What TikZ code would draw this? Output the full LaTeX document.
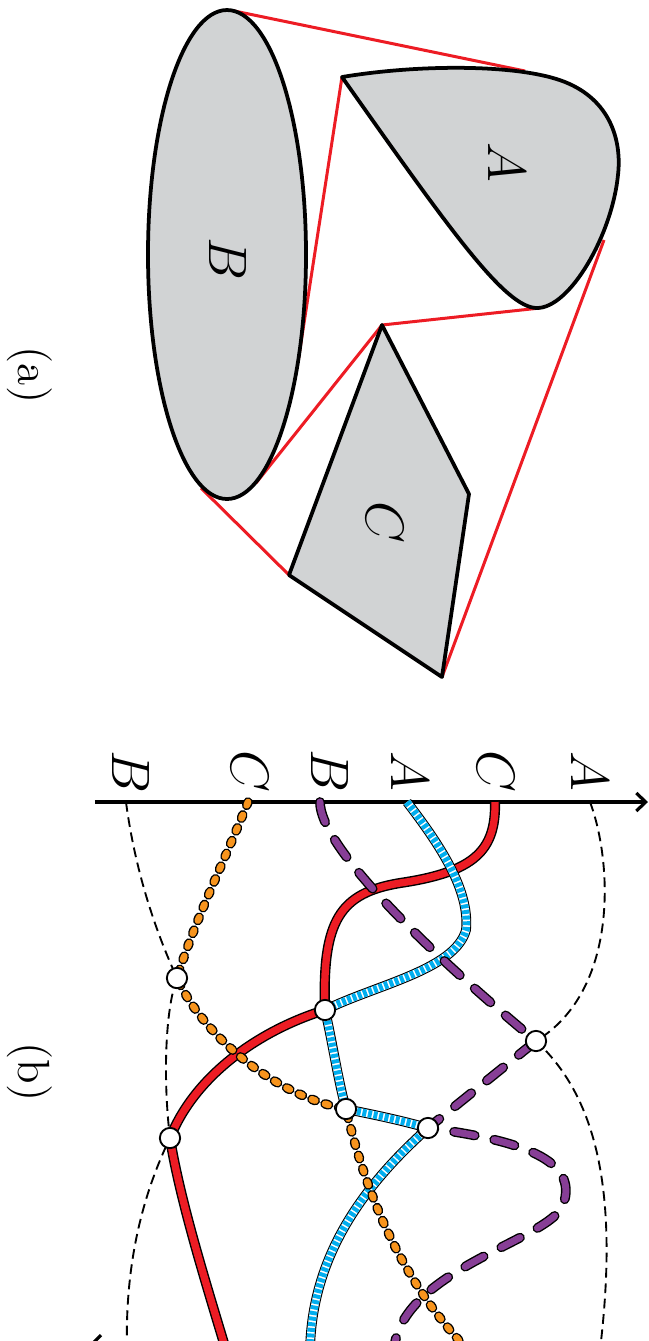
\documentclass[tikz,border=0pt]{standalone}
\usepackage{amsmath, amssymb}
\usetikzlibrary{arrows.meta}

\definecolor{shapegray}{RGB}{209,211,212}
\definecolor{hullred}{RGB}{237,28,36}
\definecolor{curvecyan}{RGB}{0,174,239}
\definecolor{curvepurple}{RGB}{135,62,150}
\definecolor{curveorange}{RGB}{247,148,29}

\tikzset{
  setshape/.style={draw=black, line width=1pt, fill=shapegray, line join=round},
  hull/.style={draw=hullred, line width=0.8pt},
  setletter/.style={rotate=-90, inner sep=0pt, font=\Large},
  panellabel/.style={rotate=-90, inner sep=0pt, font=\large},
  redcurve/.style={draw=black, line width=2.7pt,
    postaction={draw=hullred, line width=1.95pt}},
  bluecurve/.style={draw=black, line width=2.6pt,
    postaction={draw=white, line width=2pt},
    postaction={draw=curvecyan, line width=2pt, dash pattern=on 1.05pt off 0.45pt}},
  purplecurve/.style={draw=black, line width=2.6pt, line cap=round, dash pattern=on 5.6pt off 5.3pt,
    postaction={draw=curvepurple, line width=1.85pt, line cap=round, dash pattern=on 5.6pt off 5.3pt}},
  orangecurve/.style={draw=black, line width=2.55pt, line cap=round, dash pattern=on 0.95pt off 2.75pt,
    postaction={draw=curveorange, line width=1.8pt, line cap=round, dash pattern=on 0.95pt off 2.75pt}},
  envelope/.style={draw=black, line width=0.5pt, dash pattern=on 2.6pt off 1.5pt},
  meet/.style={circle, draw=black, fill=white, line width=0.5pt, inner sep=0pt, minimum size=5.4pt},
}

\begin{document}
\begin{tikzpicture}[x=0.00935cm, y=-0.00935cm]
  \useasboundingbox (0,0) rectangle (649,1341);
  \clip (0,0) rectangle (649,1341);

  % 1. Panel (a): corners of the sets, then the hull edges under the filled sets
  \coordinate (Acorner) at (342,77);
  \coordinate (Ctop) at (382,325);
  \coordinate (Cright) at (469,494);
  \coordinate (Cbottom) at (442,677);
  \coordinate (Cleft) at (289,575);

  \draw[hull] (232,10.5) -- (525,71);
  \draw[hull] (Acorner) -- (298,362);
  \draw[hull] (540,308) -- (Ctop);
  \draw[hull] (Ctop) -- (256,483);
  \draw[hull] (201,488) -- (Cleft);
  \draw[hull] (Cbottom) -- (604,240);

  \draw[setshape] (Acorner) .. controls (420,64) and (520,64) .. (565,82)
    .. controls (610,100) and (622,140) .. (618,175)
    .. controls (612,235) and (570,308) .. (537,308)
    .. controls (505,308) and (450,230) .. cycle;
  \draw[setshape] (Ctop) -- (Cright) -- (Cbottom) -- (Cleft) -- cycle;
  \draw[setshape] (227,254.5) ellipse [x radius=79, y radius=244.5];

  \node[setletter] (setA) at (507,162) {$A$};
  \node[setletter] (setB) at (228,259) {$B$};
  \node[setletter] (setC) at (385,522) {$C$};
  \node[panellabel] (panela) at (30,375) {(a)};

  % 2. Panel (b): axis with the order of the sets
  \coordinate (axisstart) at (95,802);
  \coordinate (axisend) at (648,802);
  \draw[line width=0.85pt, -{Straight Barb[length=2.5pt,width=4.8pt]}] (axisstart) -- (axisend);

  \coordinate (pB1) at (126,802);
  \coordinate (pC1) at (248,802);
  \coordinate (pB2) at (320,802);
  \coordinate (pA1) at (407,802);
  \coordinate (pC2) at (495,802);
  \coordinate (pA2) at (590,802);

  \node[setletter] (lB1) at (131,772) {$B$};
  \node[setletter] (lC1) at (250,771) {$C$};
  \node[setletter] (lB2) at (330,771) {$B$};
  \node[setletter] (lA1) at (410,771) {$A$};
  \node[setletter] (lC2) at (496,771) {$C$};
  \node[setletter] (lA2) at (590,771) {$A$};

  % meeting points and the ends below the cut
  \coordinate (m1) at (325,1010);
  \coordinate (m2) at (177,978);
  \coordinate (m3) at (170,1138);
  \coordinate (m4) at (346,1109);
  \coordinate (m5) at (428,1128);
  \coordinate (m6) at (536,1041);
  \coordinate (eLeft) at (127,1350);
  \coordinate (eRed) at (226,1350);
  \coordinate (eBlue) at (310,1350);
  \coordinate (ePurple) at (394,1350);
  \coordinate (eOrange) at (468,1350);
  \coordinate (eRight) at (600,1350);

  % 3. The thin dashed envelopes
  \draw[envelope] (pA2) .. controls (612,860) and (620,990) .. (m6)
    .. controls (600,1100) and (618,1200) .. (eRight);
  \draw[envelope] (pB1) .. controls (135,870) and (155,930) .. (m2)
    .. controls (165,1010) and (163,1080) .. (m3)
    .. controls (140,1200) and (125,1270) .. (eLeft);

  % 4. The four curves
  \draw[redcurve] (pC2) .. controls (496,850) and (475,872) .. (400,883)
    .. controls (340,893) and (322,920) .. (m1)
    .. controls (260,1030) and (195,1075) .. (m3)
    .. controls (180,1200) and (205,1280) .. (eRed);
  \draw[bluecurve] (pA1) .. controls (440,845) and (470,890) .. (466,930)
    .. controls (455,970) and (375,985) .. (m1)
    .. controls (333,1045) and (338,1080) .. (m4)
    .. controls (375,1115) and (400,1120) .. (m5)
    .. controls (370,1180) and (312,1250) .. (eBlue);
  \draw[purplecurve] (pB2) .. controls (320,845) and (420,945) .. (m6) -- (m5)
    .. controls (520,1140) and (580,1160) .. (563,1205)
    .. controls (550,1240) and (400,1270) .. (ePurple);
  \draw[orangecurve] (pC1) .. controls (225,860) and (195,920) .. (m2)
    .. controls (200,1030) and (270,1095) .. (m4)
    .. controls (365,1190) and (400,1280) .. (eOrange);

  \foreach \m in {1,...,6}
    \node[meet] (meet\m) at (m\m) {};

  \draw[line width=0.85pt] (101,1335) -- (93,1343);
  \node[panellabel] (panelb) at (30,1072) {(b)};
\end{tikzpicture}
\end{document}
